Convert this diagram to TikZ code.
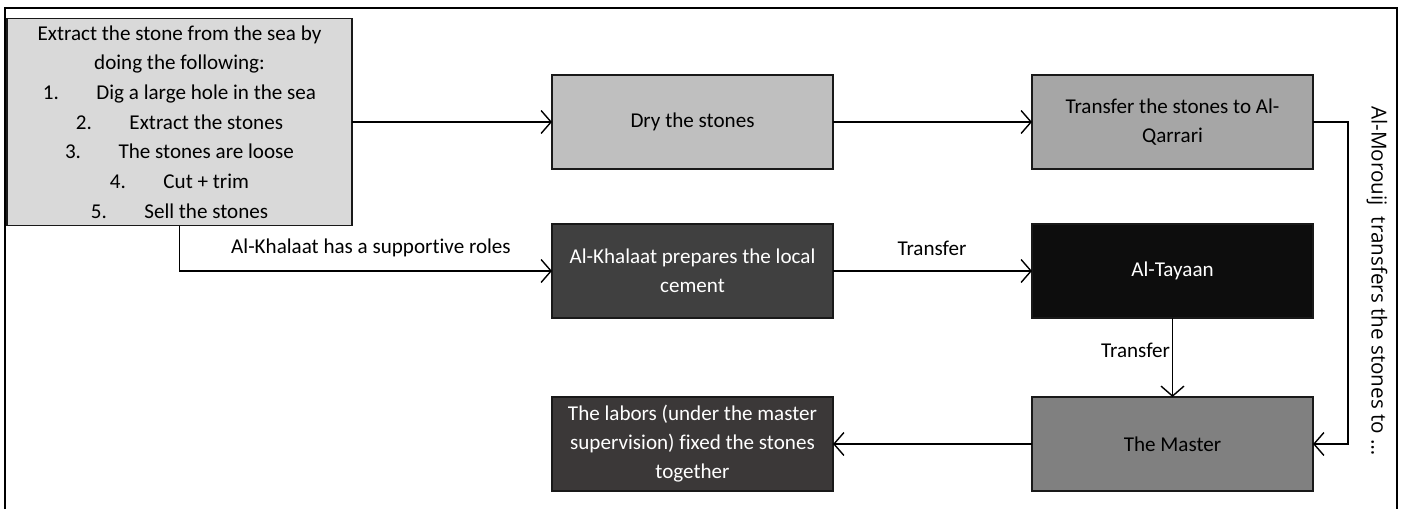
\documentclass[tikz,border=0pt]{standalone}
\usepackage{fontspec}
\setmainfont{Carlito}[Ligatures=NoCommon]
\newfontfamily\sidefont{Open Sans}
\usetikzlibrary{arrows.meta}

\definecolor{fillA}{HTML}{D9D9D9}
\definecolor{fillDry}{HTML}{BFBFBF}
\definecolor{fillQar}{HTML}{A6A6A6}
\definecolor{fillKha}{HTML}{404040}
\definecolor{fillTay}{HTML}{0D0D0D}
\definecolor{fillMas}{HTML}{808080}
\definecolor{fillLab}{HTML}{3B3838}

\begin{document}
\begin{tikzpicture}[scale=2]
\tikzset{ >={Straight Barb[length=2mm,width=4.6mm]}, inner sep=0pt, outer sep=0pt,
  box/.style={draw=black!90, line width=1.1pt, minimum width=5.62cm, minimum height=1.88cm,
              align=center, font=\fontsize{12}{16.5}\selectfont},
  link/.style={line width=0.8pt},
  lbl/.style={font=\fontsize{12}{14}\selectfont},
}
\useasboundingbox (0,0) rectangle (14.04,5.09);
%\draw [lightgray, dashed](0,0) grid (14,5);

% outer frame
\draw [line width=1.1pt] (0.05,0) -- (0.05,5.01) -- (13.97,5.01) -- (13.97,0);

\node [box, fill=fillA, minimum width=6.9cm, minimum height=4.14cm,
       font=\fontsize{12}{16.9}\selectfont] (A) at (1.795,3.87)
  {Extract the stone from the sea by\\
   doing the following:\\
   1.\hspace{0.75cm}Dig a large hole in the sea\\
   2.\hspace{0.75cm}Extract the stones\\
   3.\hspace{0.75cm}The stones are loose\\
   4.\hspace{0.75cm}Cut + trim\\
   5.\hspace{0.75cm}Sell the stones};

\node [box, fill=fillDry] (D) at (6.925,3.87) {Dry the stones};
\node [box, fill=fillQar] (Q) at (11.725,3.87) {Transfer the stones to Al-\\Qarrari};
\node [box, fill=fillKha, text=white] (K) at (6.925,2.38) {Al-Khalaat prepares the local\\cement};
\node [box, fill=fillTay, text=white] (T) at (11.725,2.38) {Al-Tayaan};
\node [box, fill=fillMas] (M) at (11.725,0.65) {The Master};
\node [box, fill=fillLab, text=white] (L) at (6.925,0.65)
  {The labors (under the master\\supervision) fixed the stones\\together};

\draw [->, link] (A) -- (D);
\draw [->, link] (D) -- (Q);
\draw [->, link] (A.south) |- (K.west);
\draw [->, link] (K) -- (T);
\draw [->, link] (T) -- (M);
\draw [->, link] (Q.east) -- ++(0.35,0) |- (M.east);
\draw [->, link] (M) -- (L);

\node [lbl] (sup) at (3.71,2.61) {Al-Khalaat has a supportive roles};
\node [lbl] (tr1) at (9.32,2.61) {Transfer};
\node [lbl, anchor=east] (tr2) at (11.70,1.59) {Transfer};
\node [font=\sidefont\fontsize{11.75}{13}\selectfont, rotate=-90] (mor) at (13.77,2.28)
  {Al-Morouij\ \ transfers the stones to \dots};

\end{tikzpicture}
\end{document}
